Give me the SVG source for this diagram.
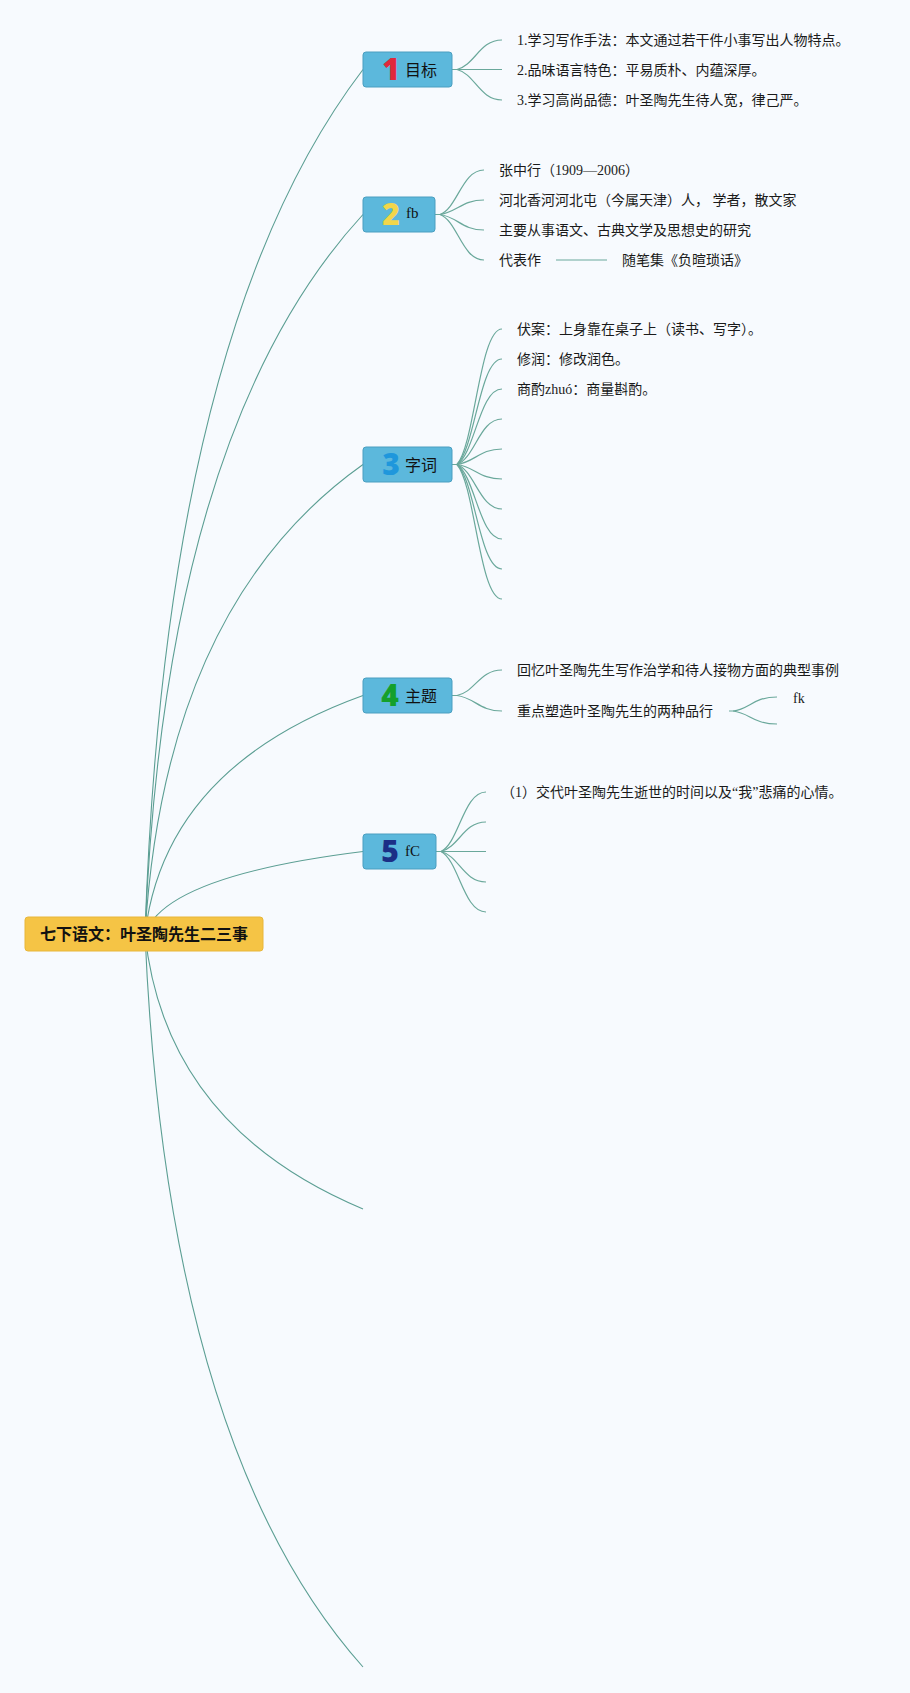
<svg xmlns="http://www.w3.org/2000/svg" width="910" height="1693" viewBox="0 0 910 1693">
<style>
.bg{fill:#f7fafe}
.main{fill:none;stroke:#5b9e93;stroke-width:1.1}
.sub{fill:none;stroke:#6aa89b;stroke-width:1.2}
.box{fill:#5cb8dc;stroke:#4a9ec0;stroke-width:1}
.root{fill:#f5c445;stroke:#e8b63a;stroke-width:1}
.rt{font-family:"Noto Sans CJK SC",sans-serif;font-size:16px;font-weight:bold;fill:#111;text-anchor:middle}
.lbl{font-family:"Liberation Serif","Noto Sans CJK SC",serif;font-size:16px;fill:#111}
.lat{font-family:"Liberation Serif","Noto Sans CJK SC",serif;font-size:15px;fill:#111}
.dg{font-family:"Open Sans","Liberation Sans",sans-serif;font-size:30px;font-weight:800;text-anchor:middle}
.t{font-family:"Liberation Serif","Noto Sans CJK SC",serif;font-size:14px;fill:#1a1a1a}
</style>
<rect class="bg" x="0" y="0" width="910" height="1693"/>
<g id="connectors">
<path class="main" d="M145,934 Q165,329 363,69.5"/>
<path class="main" d="M145,934 Q165,430 363,214.5"/>
<path class="main" d="M145,934 Q165,605 363,464.5"/>
<path class="main" d="M145,934 Q165,767 363,695.5"/>
<path class="main" d="M145,934 Q165,876 363,851.5"/>
<path class="main" d="M145,934 Q165,1126 363,1209"/>
<path class="main" d="M145,934 Q167,1447 363,1667"/>
<!-- node1 fan -->
<path class="sub" d="M452,69.5 H457 C475,65 479.5,40 502,40"/>
<path class="sub" d="M457,69.5 H502"/>
<path class="sub" d="M457,69.5 C475,74 479.5,100 502,100"/>
<!-- node2 fan -->
<path class="sub" d="M435,214.5 H440 C457.6,208 462,170 484,170"/>
<path class="sub" d="M440,214.5 C457.6,212 462,200 484,200"/>
<path class="sub" d="M440,214.5 C457.6,217 462,230 484,230"/>
<path class="sub" d="M440,214.5 C457.6,221 462,260 484,260"/>
<path class="sub" d="M556,260 H607"/>
<!-- node3 fan -->
<path class="sub" d="M452,464.5 H457 C475,444 479.5,329 502,329"/>
<path class="sub" d="M457,464.5 C475,449 479.5,359 502,359"/>
<path class="sub" d="M457,464.5 C475,453 479.5,389 502,389"/>
<path class="sub" d="M457,464.5 C475,458 479.5,419 502,419"/>
<path class="sub" d="M457,464.5 C475,462 479.5,449 502,449"/>
<path class="sub" d="M457,464.5 C475,467 479.5,479 502,479"/>
<path class="sub" d="M457,464.5 C475,471 479.5,509 502,509"/>
<path class="sub" d="M457,464.5 C475,476 479.5,539 502,539"/>
<path class="sub" d="M457,464.5 C475,480 479.5,569 502,569"/>
<path class="sub" d="M457,464.5 C475,485 479.5,599 502,599"/>
<!-- node4 fan -->
<path class="sub" d="M452,695.5 H457 C475,692 479.5,670 502,670"/>
<path class="sub" d="M457,695.5 C475,698 479.5,711 502,711"/>
<path class="sub" d="M729,711 H733 C750,709 753,697 777,697"/>
<path class="sub" d="M733,711 C750,713 753,724 777,724"/>
<!-- node5 fan -->
<path class="sub" d="M436,851.5 H441 C459,843 463.5,792 486,792"/>
<path class="sub" d="M441,851.5 C459,847 463.5,822 486,822"/>
<path class="sub" d="M441,851.5 H486"/>
<path class="sub" d="M441,851.5 C459,856 463.5,882 486,882"/>
<path class="sub" d="M441,851.5 C459,861 463.5,912 486,912"/>
</g>
<g id="root">
<rect class="root" x="25" y="917" width="238" height="34" rx="3"/>
<text class="rt" x="144" y="940">七下语文：叶圣陶先生二三事</text>
</g>
<g id="node1">
<rect class="box" x="363" y="52" width="89" height="35" rx="3"/>
<text class="dg" x="391" y="80" fill="#e0283c">1</text>
<text class="lbl" x="405" y="75.5">目标</text>
</g>
<g id="node1-children">
<text class="t" x="517" y="45">1.学习写作手法：本文通过若干件小事写出人物特点。</text>
<text class="t" x="517" y="75">2.品味语言特色：平易质朴、内蕴深厚。</text>
<text class="t" x="517" y="105">3.学习高尚品德：叶圣陶先生待人宽，律己严。</text>
</g>
<g id="node2">
<rect class="box" x="363" y="197" width="72" height="35" rx="3"/>
<text class="dg" x="391" y="225" fill="#f2d64b">2</text>
<text class="lat" x="406" y="218">fb</text>
</g>
<g id="node2-children">
<text class="t" x="499" y="175">张中行（1909—2006）</text>
<text class="t" x="499" y="205">河北香河河北屯（今属天津）人， 学者，散文家</text>
<text class="t" x="499" y="235">主要从事语文、古典文学及思想史的研究</text>
<text class="t" x="499" y="265">代表作</text>
<text class="t" x="622" y="265">随笔集《负暄琐话》</text>
</g>
<g id="node3">
<rect class="box" x="363" y="447" width="89" height="35" rx="3"/>
<text class="dg" x="391" y="475" fill="#1f97dc">3</text>
<text class="lbl" x="405" y="470.5">字词</text>
</g>
<g id="node3-children">
<text class="t" x="517" y="334">伏案：上身靠在桌子上（读书、写字）。</text>
<text class="t" x="517" y="364">修润：修改润色。</text>
<text class="t" x="517" y="394">商酌zhuó：商量斟酌。</text>
</g>
<g id="node4">
<rect class="box" x="363" y="678" width="89" height="35" rx="3"/>
<text class="dg" x="390" y="706" fill="#14a02c">4</text>
<text class="lbl" x="405" y="701.5">主题</text>
</g>
<g id="node4-children">
<text class="t" x="517" y="675">回忆叶圣陶先生写作治学和待人接物方面的典型事例</text>
<text class="t" x="517" y="716">重点塑造叶圣陶先生的两种品行</text>
<text class="t" x="793" y="703">fk</text>
</g>
<g id="node5">
<rect class="box" x="363" y="834" width="73" height="35" rx="3"/>
<text class="dg" x="390" y="862" fill="#1b2f86">5</text>
<text class="lat" x="405" y="856">fC</text>
</g>
<g id="node5-children">
<text class="t" x="501" y="797">（1）交代叶圣陶先生逝世的时间以及“我”悲痛的心情。</text>
</g>
</svg>
